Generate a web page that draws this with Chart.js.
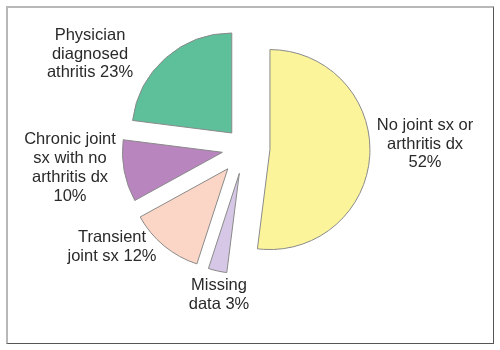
<!DOCTYPE html>
<html>
<head>
<meta charset="utf-8">
<script src="https://cdn.jsdelivr.net/npm/chart.js@4.4.0/dist/chart.umd.min.js"></script>
<style>
  html, body { margin: 0; padding: 0; background: #fff; }
  #wrap { position: relative; width: 500px; height: 350px; }
  #frame {
    position: absolute; left: 6px; top: 6px; width: 488px; height: 338px;
    border-left: 2px solid #b8b8b8; border-top: 2px solid #b8b8b8;
    border-right: 1px solid #555; border-bottom: 1px solid #555;
    box-sizing: border-box;
  }
  canvas { position: absolute; left: 0; top: 0; }
</style>
</head>
<body>
<div id="wrap">
  <div id="frame"></div>
  <canvas id="chart" width="500" height="350"></canvas>
</div>
<script>
// Data (clockwise from 12 o'clock)
const categories = ['No joint sx or arthritis dx', 'Missing data', 'Transient joint sx',
  'Chronic joint sx with no arthritis dx', 'Physician diagnosed athritis'];
const values = [52, 3, 12, 10, 23];
const labelLines = [
  ['No joint sx or', 'arthritis dx', '52%'],
  ['Missing', 'data 3%'],
  ['Transient', 'joint sx 12%'],
  ['Chronic joint', 'sx with no', 'arthritis dx', '10%'],
  ['Physician', 'diagnosed', 'athritis 23%']
];

// Styling
const colors = ['#fbf49a', '#d5c7e5', '#fbd5c5', '#b885be', '#5dc09b'];
const explode = [25, 26, 27, 23, 20];   // px each slice is pulled out
// label block centre, relative to the pie centre
const labelPos = [[180, -4], [-26, 147], [-133, 99], [-175, 20], [-155, -94]];

// pull every slice out along its middle angle (keeps the slice angles intact)
const explodeSlices = {
  id: 'explodeSlices',
  afterDatasetsUpdate(chart) {
    chart.getDatasetMeta(0).data.forEach((arc, i) => {
      const mid = (arc.startAngle + arc.endAngle) / 2;
      arc.x += Math.cos(mid) * explode[i];
      arc.y += Math.sin(mid) * explode[i];
    });
  }
};

// draws the text next to each slice
const sliceLabels = {
  id: 'sliceLabels',
  afterDatasetsDraw(chart) {
    const ctx = chart.ctx;
    const area = chart.chartArea;
    const px = (area.left + area.right) / 2;
    const py = (area.top + area.bottom) / 2;
    ctx.save();
    ctx.font = '16.5px "Liberation Sans", Arial, sans-serif';
    ctx.fillStyle = '#2a2a2a';
    ctx.textAlign = 'center';
    ctx.textBaseline = 'middle';
    const lh = 18.7;
    labelLines.forEach((lines, i) => {
      const cx = px + labelPos[i][0];
      const cy = py + labelPos[i][1];
      const top = cy - (lines.length - 1) * lh / 2;
      lines.forEach((t, j) => ctx.fillText(t, cx, top + j * lh));
    });
    ctx.restore();
  }
};

new Chart(document.getElementById('chart'), {
  type: 'pie',
  data: {
    labels: categories,
    datasets: [{
      data: values,
      backgroundColor: colors,
      borderColor: '#8a8a8a',
      borderWidth: 1,
      hoverOffset: 0
    }]
  },
  options: {
    responsive: false,
    animation: false,
    radius: 100,
    layout: { padding: { left: 20, right: 30, top: 20, bottom: 74 } },
    plugins: {
      legend: { display: false },
      tooltip: { enabled: false }
    }
  },
  plugins: [explodeSlices, sliceLabels]
});
</script>
</body>
</html>
